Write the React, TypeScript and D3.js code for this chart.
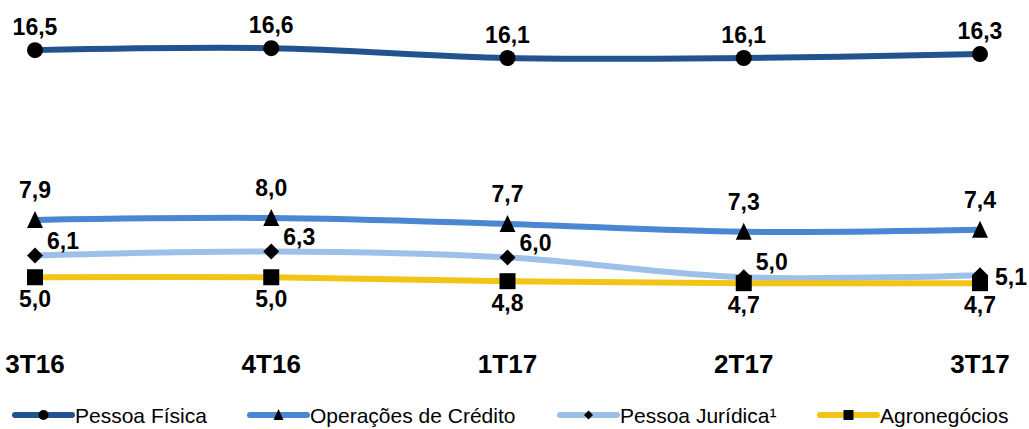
import React from "react";
import * as d3 from "d3";

const categories = ["3T16", "4T16", "1T17", "2T17", "3T17"];
const pessoaFisica = [16.5, 16.6, 16.1, 16.1, 16.3];
const operacoesCredito = [7.9, 8.0, 7.7, 7.3, 7.4];
const pessoaJuridica = [6.1, 6.3, 6.0, 5.0, 5.1];
const agronegocios = [5.0, 5.0, 4.8, 4.7, 4.7];

const seriesNames = ["Pessoa Física", "Operações de Crédito", "Pessoa Jurídica¹", "Agronegócios"];

const W = 1029;
const H = 429;
const FONT = "'Liberation Sans', Arial, Helvetica, sans-serif";

type Marker = "circle" | "triangle" | "diamond" | "square";

const series = [
  { name: seriesNames[0], values: pessoaFisica, color: "#23538F", marker: "circle" as Marker, label: "above", dy: -15 },
  { name: seriesNames[1], values: operacoesCredito, color: "#4A86D2", marker: "triangle" as Marker, label: "above", dy: -22 },
  { name: seriesNames[2], values: pessoaJuridica, color: "#9DC0E9", marker: "diamond" as Marker, label: "right", dy: -7 },
  { name: seriesNames[3], values: agronegocios, color: "#F2C416", marker: "square" as Marker, label: "below", dy: 30 },
];

function markerPath(m: Marker, s: number): string {
  const h = s / 2;
  switch (m) {
    case "circle":
      return `M${-h},0A${h},${h} 0 1,0 ${h},0A${h},${h} 0 1,0 ${-h},0Z`;
    case "triangle":
      return `M0,${-h - 1}L${h},${h}L${-h},${h}Z`;
    case "diamond":
      return `M0,${-h}L${h},0L0,${h}L${-h},0Z`;
    case "square":
      return `M${-h},${-h}H${h}V${h}H${-h}Z`;
  }
}

const markerSize: Record<Marker, number> = { circle: 16, triangle: 16, diamond: 16, square: 16 };
const legendMarkerSize: Record<Marker, number> = { circle: 10, triangle: 10, diamond: 9, square: 10 };

export default function App() {
  const x = d3.scalePoint<string>().domain(categories).range([35, 980]);
  const y = d3.scaleLinear().domain([0, 18]).range([376, 376 - 18 * 19.75]);

  const line = d3
    .line<number>()
    .x((_, i) => x(categories[i]) as number)
    .y((v) => y(v))
    .curve(d3.curveCatmullRom.alpha(0.5));

  const legendX = [15, 250, 560, 820];
  const legendY = 415;

  return (
    <svg
      width={W}
      height={H}
      viewBox={`0 0 ${W} ${H}`}
      style={{ position: "absolute", left: 0, top: 0, background: "#fff" }}
      fontFamily={FONT}
    >
      <rect width={W} height={H} fill="#fff" />
      {series.map((s) => (
        <path key={s.name} d={line(s.values) || ""} fill="none" stroke={s.color} strokeWidth={6} strokeLinecap="round" />
      ))}
      {series.map((s) =>
        s.values.map((v, i) => (
          <path
            key={s.name + i}
            d={markerPath(s.marker, markerSize[s.marker])}
            transform={`translate(${x(categories[i])},${y(v)})`}
            fill="#000"
          />
        ))
      )}
      {series.map((s) =>
        s.values.map((v, i) => {
          const px = x(categories[i]) as number;
          const py = y(v);
          const isRight = s.label === "right";
          const last = i === s.values.length - 1;
          const dy = isRight && last ? 10 : s.dy;
          return (
            <text
              key={"l" + s.name + i}
              x={isRight ? px + (last ? 15 : 12) : px}
              y={py + dy}
              textAnchor={isRight ? "start" : "middle"}
              fontSize={23}
              fontWeight="bold"
              fill="#000"
            >
              {v.toFixed(1).replace(".", ",")}
            </text>
          );
        })
      )}
      {categories.map((c) => (
        <text key={c} x={x(c)} y={373} textAnchor="middle" fontSize={26} fontWeight="bold" fill="#000">
          {c}
        </text>
      ))}
      {series.map((s, i) => (
        <g key={"lg" + s.name} transform={`translate(${legendX[i]},${legendY})`}>
          <line x1={0} x2={57} y1={0} y2={0} stroke={s.color} strokeWidth={6} strokeLinecap="round" />
          <path d={markerPath(s.marker, legendMarkerSize[s.marker])} transform="translate(28.5,0)" fill="#000" />
          <text x={60} y={8} fontSize={21} fill="#000">
            {s.name}
          </text>
        </g>
      ))}
    </svg>
  );
}
